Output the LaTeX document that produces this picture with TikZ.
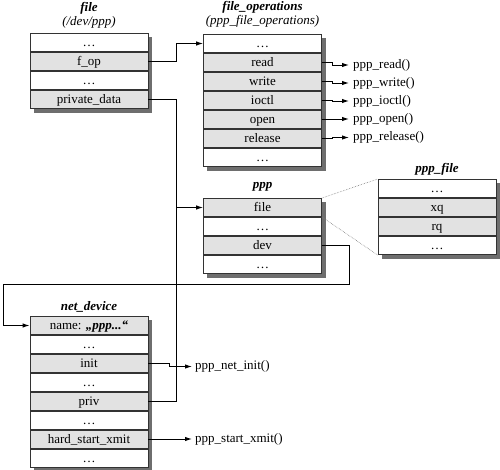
\documentclass[tikz,border=0pt]{standalone}
\usepackage{fontspec}
\setmainfont{Liberation Serif}
\usetikzlibrary{arrows.meta,backgrounds,calc}
\definecolor{rowgray}{RGB}{226,226,226}
\definecolor{shadowgray}{RGB}{110,110,110}
\tikzset{
  cell/.style={draw=black!80, line width=0.8pt, rectangle, minimum width=118pt, minimum height=18.2pt,
    inner sep=0pt, text height=9pt, text depth=0.5pt, anchor=north,
    font=\fontsize{13}{14}\selectfont, fill=white},
  gcell/.style={cell, fill=rowgray},
  boxtitle/.style={font=\fontsize{13}{14}\selectfont\bfseries\itshape, inner sep=0pt},
  boxsub/.style={font=\fontsize{13}{14}\selectfont\itshape, inner sep=0pt},
  fn/.style={font=\fontsize{13}{14}\selectfont, anchor=west, inner sep=0pt, text height=9pt, text depth=3pt},
  conn/.style={line width=1pt, black},
  arr/.style={conn, -{Latex[length=7pt,width=4.5pt]}},
  shadowbox/.style={fill=shadowgray},
  dotline/.style={densely dotted, gray, line width=0.6pt}
}
\begin{document}
\begin{tikzpicture}[x=1pt,y=-1pt]
\useasboundingbox (0,0) rectangle (500,469);
% file
\node[boxtitle] (tfile) at (89,8) {file};
\node[boxsub] (sfile) at (89,22) {(/dev/ppp)};
\node[cell]  (f1) at (89,33) {\dots};
\node[gcell] (f2) at (f1.south) {f\_op};
\node[cell]  (f3) at (f2.south) {\dots};
\node[gcell] (f4) at (f3.south) {private\_data};
% file_operations
\node[boxtitle] (tops) at (262.5,7) {file\_operations};
\node[boxsub] (sops) at (262.5,21.5) {(ppp\_file\_operations)};
\node[cell]  (o1) at (262.5,34) {\dots};
\node[gcell] (o2) at (o1.south) {read};
\node[gcell] (o3) at (o2.south) {write};
\node[gcell] (o4) at (o3.south) {ioctl};
\node[gcell] (o5) at (o4.south) {open};
\node[gcell] (o6) at (o5.south) {release};
\node[cell]  (o7) at (o6.south) {\dots};
% ppp
\node[boxtitle] (tppp) at (262.5,187) {ppp};
\node[gcell] (p1) at (262.5,198) {file};
\node[cell]  (p2) at (p1.south) {\dots};
\node[gcell] (p3) at (p2.south) {dev};
\node[cell]  (p4) at (p3.south) {\dots};
% ppp_file
\node[boxtitle] (tpf) at (437,169) {ppp\_file};
\node[cell]  (q1) at (437,179) {\dots};
\node[gcell] (q2) at (q1.south) {xq};
\node[gcell] (q3) at (q2.south) {rq};
\node[cell]  (q4) at (q3.south) {\dots};
% net_device
\node[boxtitle] (tnd) at (89,307) {net\_device};
\node[gcell] (n1) at (89,316) {name: \textbf{\textit{„ppp...“}}};
\node[cell]  (n2) at (n1.south) {\dots};
\node[gcell] (n3) at (n2.south) {init};
\node[cell]  (n4) at (n3.south) {\dots};
\node[gcell] (n5) at (n4.south) {priv};
\node[cell]  (n6) at (n5.south) {\dots};
\node[gcell] (n7) at (n6.south) {hard\_start\_xmit};
\node[cell]  (n8) at (n7.south) {\dots};
% shadows
\begin{scope}[on background layer]
\fill[shadowgray] ($(f1.north west)+(4,4)$) rectangle ($(f4.south east)+(4,4)$);
\fill[shadowgray] ($(o1.north west)+(4,4)$) rectangle ($(o7.south east)+(4,4)$);
\fill[shadowgray] ($(p1.north west)+(4,4)$) rectangle ($(p4.south east)+(4,4)$);
\fill[shadowgray] ($(q1.north west)+(4,4)$) rectangle ($(q4.south east)+(4,4)$);
\fill[shadowgray] ($(n1.north west)+(4,4)$) rectangle ($(n8.south east)+(4,4)$);
\end{scope}
% function labels
\node[fn] (r2) at (353,65) {ppp\_read()};
\node[fn] (r3) at (353,83) {ppp\_write()};
\node[fn] (r4) at (353,101) {ppp\_ioctl()};
\node[fn] (r5) at (353,119) {ppp\_open()};
\node[fn] (r6) at (353,137.5) {ppp\_release()};
\node[fn] (ni) at (195,366.5) {ppp\_net\_init()};
\node[fn] (nx) at (195,439) {ppp\_start\_xmit()};
\foreach \s/\t in {o2/r2,o3/r3,o4/r4,o5/r5,o6/r6}{
  \draw[arr, shorten >=4pt] (\s.east) -- ([xshift=11pt]\s.east) |- (\t.west);
}
\draw[arr, shorten >=3pt] (n3.east) -- ([xshift=21pt]n3.east) |- (ni.west);
\draw[arr, shorten >=3pt] (n7.east) -- ([xshift=21pt]n7.east) |- (nx.west);
% pointers
\coordinate (vx) at ([xshift=28pt]f4.east);
\draw[arr] (f2.east) -- ([xshift=28pt]f2.east) |- (o1.west);
\draw[conn] (f4.east) -- (vx) |- (n5.east);
\draw[arr] (p1.west -| vx) -- (p1.west);
\coordinate (dl) at (3,284);
\draw[arr] (p3.east) -- ([xshift=28pt]p3.east) |- (dl) |- (n1.west);
% dotted
\draw[dotline] (p1.north east) -- (q1.north west);
\draw[dotline] (p1.south east) -- (q4.south west);
\end{tikzpicture}
\end{document}
